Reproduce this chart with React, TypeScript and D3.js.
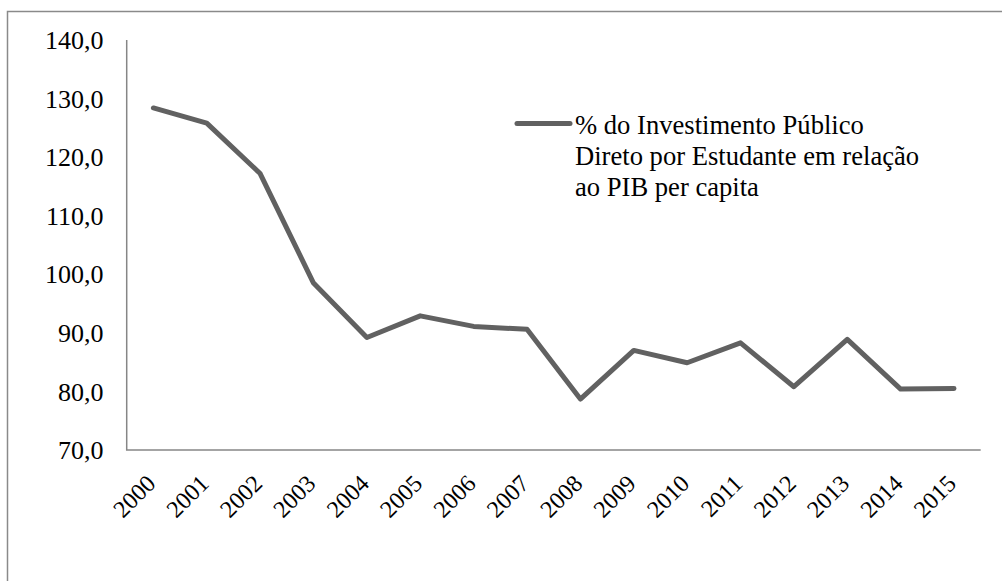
import React from "react";
import * as d3 from "d3";

const years = ["2000","2001","2002","2003","2004","2005","2006","2007","2008","2009","2010","2011","2012","2013","2014","2015"];
const values = [128.4, 125.8, 117.2, 98.5, 89.2, 92.9, 91.1, 90.6, 78.7, 87.0, 84.9, 88.3, 80.8, 88.9, 80.4, 80.5];
const yTicks = [70, 80, 90, 100, 110, 120, 130, 140];
const seriesName = ["% do Investimento Público", "Direto por Estudante em relação", "ao PIB per capita"];

const W = 1002;
const H = 581;
const left = 126.7;
const right = 980.7;
const top = 40;
const bottom = 450;
const FONT = "'Liberation Serif', 'Times New Roman', serif";

export default function App() {
  const x = d3.scaleBand<string>().domain(years).range([left, right]);
  const y = d3.scaleLinear().domain([70, 140]).range([bottom, top]);
  const line = d3
    .line<number>()
    .x((_, i) => (x(years[i]) as number) + x.bandwidth() / 2)
    .y((v) => y(v));
  const fmt = (v: number) => v.toFixed(1).replace(".", ",");

  return (
    <svg
      width={W}
      height={H}
      style={{ position: "absolute", left: 0, top: 0, display: "block", background: "#fff" }}
    >
      <rect x={7.5} y={11.5} width={1200} height={800} fill="#fff" stroke="#8a8a8a" strokeWidth={1.5} />

      {/* axes */}
      <path d={`M${left},${top}V${bottom}H${right}`} fill="none" stroke="#868686" strokeWidth={1.5} />

      {yTicks.map((t) => (
        <text key={t} x={103.5} y={y(t)} dy="0.35em" textAnchor="end" fontSize={26} fontFamily={FONT} fill="#000">
          {fmt(t)}
        </text>
      ))}

      {years.map((yr) => {
        const cx = (x(yr) as number) + x.bandwidth() / 2;
        return (
          <text
            key={yr}
            transform={`translate(${cx + 3.5},${485}) rotate(-45)`}
            textAnchor="end"
            fontSize={24}
            fontFamily={FONT}
            fill="#000"
          >
            {yr}
          </text>
        );
      })}

      <path
        d={line(values) as string}
        fill="none"
        stroke="#616161"
        strokeWidth={5}
        strokeLinejoin="round"
        strokeLinecap="round"
      />

      {/* legend */}
      <line x1={517} x2={570} y1={123.5} y2={123.5} stroke="#616161" strokeWidth={5} strokeLinecap="round" />
      {seriesName.map((s, i) => (
        <text key={i} x={575} y={134 + i * 31} fontSize={26.6} fontFamily={FONT} fill="#000">
          {s}
        </text>
      ))}
    </svg>
  );
}
